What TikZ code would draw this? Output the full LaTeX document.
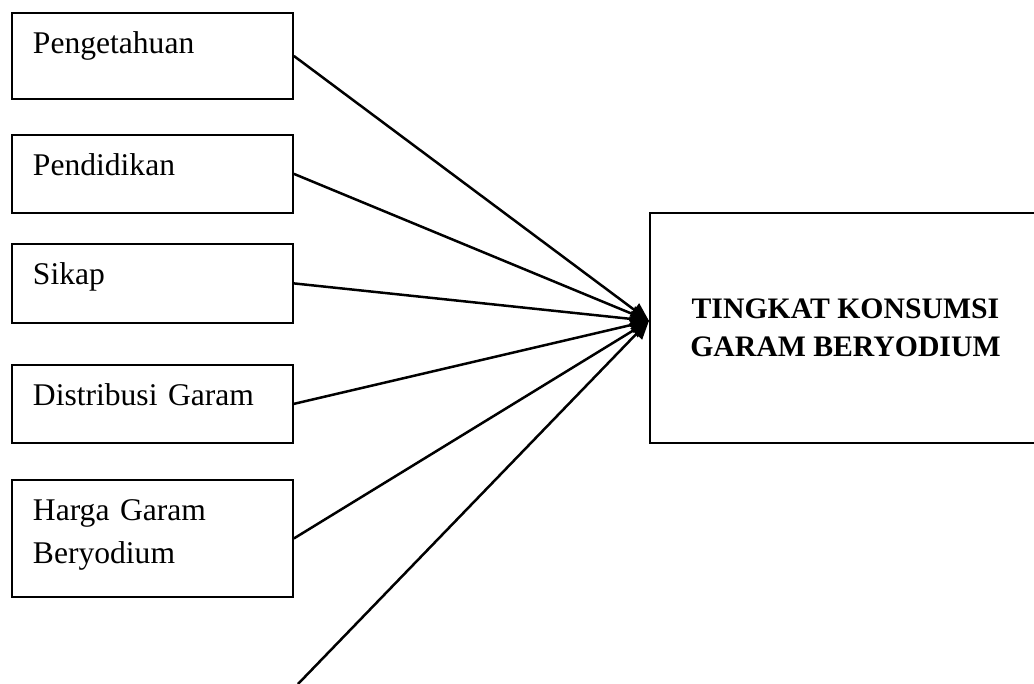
\documentclass[tikz,border=0pt]{standalone}
\usepackage{fontspec}
\setmainfont{Liberation Serif}
\usetikzlibrary{arrows.meta}

\begin{document}
\begin{tikzpicture}[x=0.38pt, y=-0.38pt,
  factor/.style={draw, line width=0.7pt, anchor=north west, align=left,
    inner xsep=8pt, inner ysep=0pt, text width=90.8pt, text height=15.6pt,
    font=\fontsize{12}{16}\selectfont},
  goal/.style={draw, line width=0.7pt, anchor=north west, align=center,
    minimum width=148.6pt, minimum height=87.4pt,
    font=\fontsize{11.3}{14.4}\selectfont\bfseries},
  link/.style={line width=0.95pt, -{Triangle[length=7pt,width=6pt]}}]
\clip (0,0) rectangle (1034,684);

\node[factor, text depth=17.1pt] (know) at (11, 12) {Pengetahuan};
\node[factor, text depth=14.0pt] (edu) at (11, 134) {Pendidikan};
\node[factor, text depth=14.4pt] (att) at (11, 243) {Sikap};
\node[factor, text depth=14.0pt] (dist) at (11, 364) {Distribusi Garam};
\node[factor, text depth=28.9pt] (price) at (11, 479) {Harga Garam\\Beryodium};

\node[goal] (level) at (649, 212) {TINGKAT KONSUMSI\\GARAM BERYODIUM};

\coordinate (aim) at ([yshift=2.7pt]level.west);
\coordinate (tail) at (298, 684);

\draw[link] (know.east) -- (aim);
\draw[link] (edu.east) -- (aim);
\draw[link] (att.east) -- (aim);
\draw[link] (dist.east) -- (aim);
\draw[link] (price.east) -- (aim);
\draw[link] (tail) -- (aim);
\end{tikzpicture}
\end{document}
